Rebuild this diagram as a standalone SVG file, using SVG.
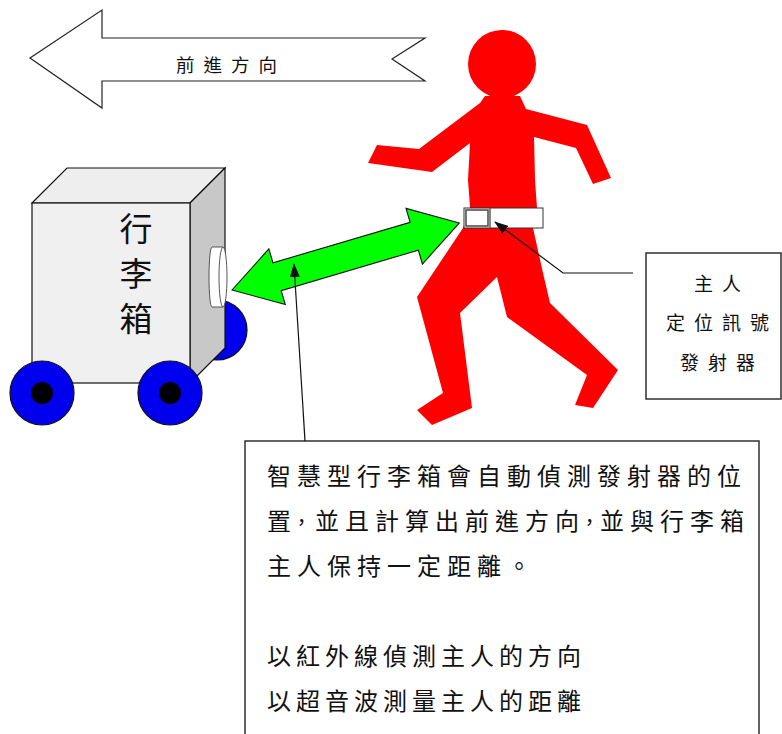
<svg xmlns="http://www.w3.org/2000/svg" width="782" height="734" viewBox="0 0 782 734">
  <style>
    .cjk { font-family: "Noto Sans CJK TC", "Noto Sans CJK SC", "Liberation Sans", sans-serif; fill: #111; }
    .line { fill: none; stroke: #111; stroke-width: 1.2; }
    .box { fill: #fff; stroke: #222; stroke-width: 1.4; }
    .wheel { fill: #0000ee; stroke: #111; stroke-width: 1.2; }
    .hub { fill: #000; }
  </style>
  <defs>
    <marker id="tip" viewBox="0 0 14 10" refX="13" refY="5" markerWidth="14" markerHeight="10" markerUnits="userSpaceOnUse" orient="auto">
      <path d="M0,0 L14,5 L0,10 Z" fill="#111"/>
    </marker>
  </defs>
  <rect width="782" height="734" fill="#fff"/>

  <!-- direction of travel -->
  <g id="direction-arrow">
    <path d="M30,58 L102,10 L102,38 L425,38 L392,59 L425,81 L102,81 L102,108 Z" fill="#fff" stroke="#222" stroke-width="1.2" stroke-linejoin="miter"/>
    <text class="cjk" x="176" y="72" font-size="18.5" letter-spacing="9">前進方向</text>
  </g>

  <!-- smart suitcase on wheels -->
  <g id="suitcase">
    <circle class="wheel" cx="217" cy="330" r="30"/>
    <path d="M32,203 L67,168 L225,168 L190,203 Z" fill="#eeeeee" stroke="#111" stroke-width="1.2"/>
    <path d="M190,203 L225,168 L225,348 L190,383 Z" fill="#c8c8c8" stroke="#111" stroke-width="1.2"/>
    <rect x="32" y="203" width="158" height="180" fill="#f0f0f0" stroke="#111" stroke-width="1.2"/>
    <g class="cjk" font-size="33" text-anchor="middle">
      <text x="136" y="241">行</text>
      <text x="136" y="286">李</text>
      <text x="136" y="331">箱</text>
    </g>
    <!-- infrared / ultrasonic sensor -->
    <path d="M223,247 L212,247 A3,30 0 0 0 212,307 L223,307 Z" fill="#fff" stroke="#444" stroke-width="0.9"/>
    <ellipse cx="223" cy="277" rx="4" ry="30" fill="#fff" stroke="#444" stroke-width="0.9"/>
    <circle class="wheel" cx="42" cy="393" r="32"/>
    <circle class="hub" cx="42" cy="393" r="11"/>
    <circle class="wheel" cx="170" cy="393" r="32"/>
    <circle class="hub" cx="170" cy="393" r="11"/>
  </g>

  <!-- walking owner -->
  <g id="owner">
    <circle cx="502" cy="64" r="34" fill="#ff0000"/>
    <polygon fill="#ff0000" points="485,96 520,96 526,109 587,125 611,178 593,184 576,148 534,137 535,180 537,208 533,228 543,273 550,303 618,370 593,408 575,405 587,375 507,317 497,277 460,313 472,408 432,425 417,410 443,393 417,297 463,228 470,207 468,180 470,143 432,172 368,163 377,145 419,149 480,103"/>
    <!-- belt-mounted emitter -->
    <rect x="464" y="208" width="79" height="20" fill="#fff" stroke="#333" stroke-width="1"/>
    <rect x="466" y="210" width="22" height="16" fill="#fff" stroke="#777" stroke-width="1.6"/>
    <rect x="466" y="210" width="22" height="16" fill="none" stroke="#333" stroke-width="0.6"/>
    <line x1="490" y1="208" x2="490" y2="228" stroke="#555" stroke-width="1.4"/>
  </g>

  <!-- signal link between suitcase and owner -->
  <g id="signal-link">
    <polygon transform="translate(232,290) rotate(-16.44)" points="0,0 47,-29 47,-14.5 190,-14.5 190,-29 237,0 190,29 190,14.5 47,14.5 47,29" fill="#00ff00" stroke="#111" stroke-width="1.1" stroke-linejoin="miter"/>
  </g>

  <!-- emitter label -->
  <g id="emitter-label">
    <rect class="box" x="646" y="253" width="135" height="146"/>
    <g class="cjk" font-size="19" letter-spacing="9" text-anchor="middle">
      <text x="722" y="291">主人</text>
      <text x="722" y="330">定位訊號</text>
      <text x="722" y="370">發射器</text>
    </g>
  </g>

  <!-- description -->
  <g id="description">
    <rect class="box" x="245" y="441" width="514" height="310"/>
    <g class="cjk" font-size="24">
      <text x="267" y="485" letter-spacing="6">智慧型行李箱會自動偵測發射器的位</text>
      <text y="530"><tspan x="267">置</tspan><tspan x="291.5" font-size="20">，</tspan><tspan x="315 345 375 405 435 465 495 525 555">並且計算出前進方向</tspan><tspan x="579.5" font-size="20">，</tspan><tspan x="600 630 660 690 720">並與行李箱</tspan></text>
      <text x="267" y="575" letter-spacing="6">主人保持一定距離。</text>
      <text x="267" y="665" letter-spacing="5">以紅外線偵測主人的方向</text>
      <text x="267" y="710" letter-spacing="5">以超音波測量主人的距離</text>
    </g>
  </g>

  <!-- leader lines -->
  <g id="connectors">
    <polyline class="line" points="633,273 563,273 495,222" marker-end="url(#tip)"/>
    <line class="line" x1="305" y1="441" x2="294" y2="264" marker-end="url(#tip)"/>
  </g>
</svg>
